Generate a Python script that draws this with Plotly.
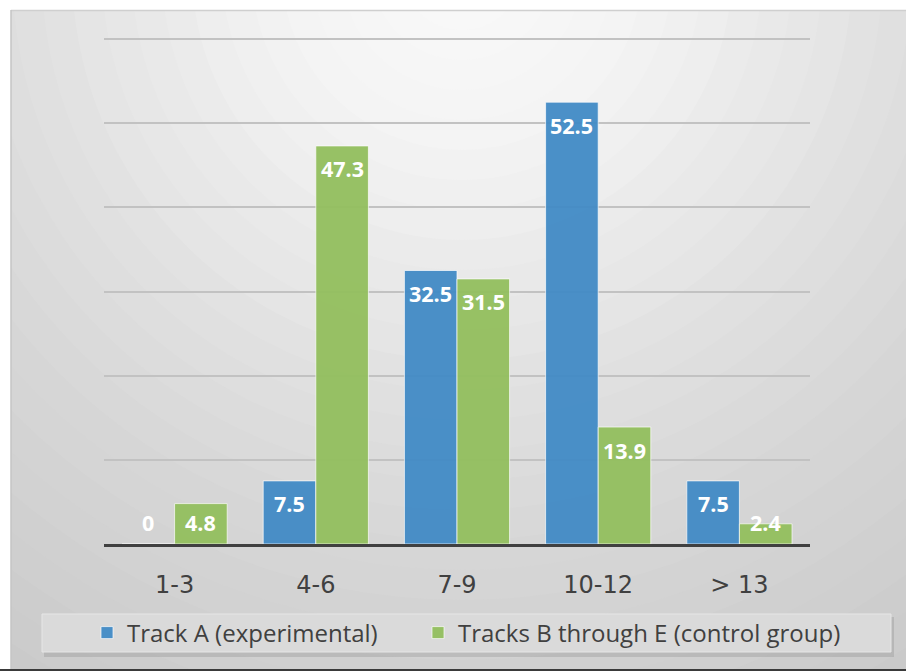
import plotly.graph_objects as go

categories = ["1-3", "4-6", "7-9", "10-12", "> 13"]
track_a = [0, 7.5, 32.5, 52.5, 7.5]
tracks_be = [4.8, 47.3, 31.5, 13.9, 2.4]
series_names = ["Track A (experimental)", "Tracks B through E (control group)"]

FW, FH = 906, 671
YMAX = 60
YTOP = 60.6
L, R, B = 104, 96, 127
PPU = (FH - B - 39) / YMAX           # pixels per unit so that 60 sits at y=39
T = int(round(39 - (YTOP - YMAX) * PPU))
PW, PH = FW - L - R, FH - T - B
BARGAP = 0.255
FONT = "Open Sans"
TICKFONT = "DejaVu Sans"

def X(px):
    return (px - L) / PW

def Y(py):
    return (FH - B - py) / PH

blue = "#428bc6"
green = "#93bf5e"

fig = go.Figure()
fig.add_trace(go.Bar(x=categories, y=track_a, name=series_names[0], legend="legend",
                     marker=dict(color=blue, line=dict(color="rgba(255,255,255,0.7)", width=1)),
                     opacity=0.95))
fig.add_trace(go.Bar(x=categories, y=tracks_be, name=series_names[1], legend="legend2",
                     marker=dict(color=green, line=dict(color="rgba(255,255,255,0.7)", width=1)),
                     opacity=0.95))

# data labels
px_per_unit = PH / YTOP
cat_w = PW / len(categories)
half = (1 - BARGAP) * cat_w / 4
annos = []
for vals, sh in ((track_a, -half), (tracks_be, half)):
    for c, v in zip(categories, vals):
        yv = max(v - 23 / px_per_unit, 22 / px_per_unit)
        annos.append(dict(x=c, y=yv, xref="x", yref="y", text=f"{v:g}", showarrow=False,
                          xshift=sh, yanchor="middle",
                          font=dict(family=FONT, size=21.5, color="white", weight="bold")))

# radial background bands
def shade(r):
    pts = [(0, 250), (200, 243), (450, 224), (600, 214), (850, 202), (1000, 196)]
    for (r0, c0), (r1, c1) in zip(pts, pts[1:]):
        if r <= r1:
            return c0 + (c1 - c0) * (r - r0) / (r1 - r0)
    return pts[-1][1]

shapes = []
cx, cy = 462, -30
for r in range(990, 40, -30):
    g = int(round(shade(r)))
    shapes.append(dict(type="circle", xref="paper", yref="paper", layer="below",
                       xsizemode="pixel", ysizemode="pixel", xanchor=X(cx), yanchor=Y(cy),
                       x0=-r, x1=r, y0=-r, y1=r,
                       fillcolor=f"rgb({g},{g},{g})", line=dict(width=0)))
# white outside frame
shapes.append(dict(type="rect", xref="paper", yref="paper", layer="below",
                   x0=X(0), x1=X(FW), y0=Y(10), y1=Y(0), fillcolor="white", line=dict(width=0)))
shapes.append(dict(type="rect", xref="paper", yref="paper", layer="below",
                   x0=X(0), x1=X(11), y0=Y(FH), y1=Y(0), fillcolor="white", line=dict(width=0)))
# frame edges
shapes.append(dict(type="line", xref="paper", yref="paper", layer="below",
                   x0=X(11), x1=X(FW), y0=Y(10.5), y1=Y(10.5), line=dict(color="#cfcfcf", width=1.5)))
shapes.append(dict(type="line", xref="paper", yref="paper", layer="below",
                   x0=X(11), x1=X(11), y0=Y(10), y1=Y(FH), line=dict(color="#c4c4c4", width=1.5)))
shapes.append(dict(type="line", xref="paper", yref="paper", layer="below",
                   x0=X(0), x1=X(FW), y0=Y(670), y1=Y(670), line=dict(color="#3a3a3a", width=2)))
# legend box with shadow
shapes.append(dict(type="rect", xref="paper", yref="paper", layer="below",
                   x0=X(44), x1=X(894), y0=Y(657), y1=Y(617), fillcolor="rgba(0,0,0,0.10)", line=dict(width=0)))
shapes.append(dict(type="rect", xref="paper", yref="paper", layer="below",
                   x0=X(42), x1=X(891), y0=Y(652), y1=Y(614), fillcolor="#dadada",
                   line=dict(color="#e6e6e6", width=1)))

legend_font = dict(family=FONT, size=24, color="#404040")
fig.update_layout(
    width=FW, height=FH,
    margin=dict(l=L, r=R, t=T, b=B, pad=0),
    paper_bgcolor="white", plot_bgcolor="rgba(0,0,0,0)",
    barmode="group", bargap=BARGAP, bargroupgap=0.0,
    font=dict(family=FONT, color="#404040"),
    shapes=shapes, annotations=annos,
    showlegend=True,
    legend=dict(orientation="h", x=X(87), xanchor="left", y=Y(633), yanchor="middle",
                bgcolor="rgba(0,0,0,0)", font=legend_font),
    legend2=dict(orientation="h", x=X(418), xanchor="left", y=Y(633), yanchor="middle",
                 bgcolor="rgba(0,0,0,0)", font=legend_font),
    xaxis=dict(type="category", categoryorder="array", categoryarray=categories,
               showline=True, linecolor="#404040", linewidth=2.5, showgrid=False,
               ticks="outside", ticklen=17, tickcolor="rgba(0,0,0,0)",
               tickfont=dict(family=TICKFONT, size=24, color="#404040"), fixedrange=True),
    yaxis=dict(range=[0, YTOP], tickvals=[10, 20, 30, 40, 50, 60], showgrid=True,
               gridcolor="#c2c2c2", gridwidth=1.5,
               showticklabels=False, zeroline=False, showline=False, fixedrange=True),
)

fig.write_html("out.html")
